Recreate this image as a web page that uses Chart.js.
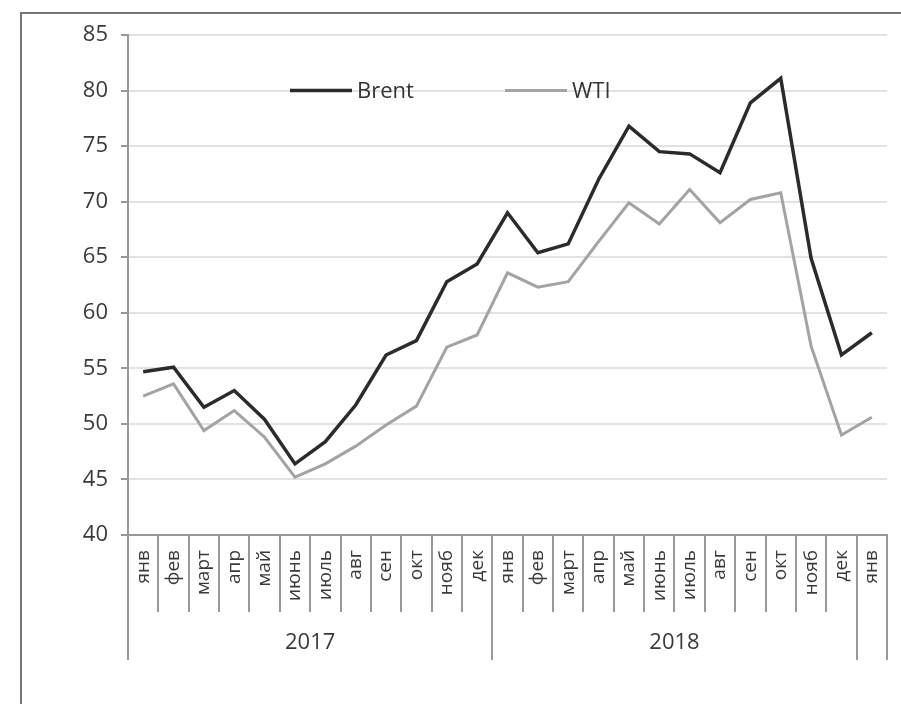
<!DOCTYPE html>
<html>
<head>
<meta charset="utf-8">
<script src="https://cdn.jsdelivr.net/npm/chart.js@4/dist/chart.umd.min.js"></script>
<style>
  html, body { margin: 0; padding: 0; background: #fff; }
  #wrap { position: relative; width: 901px; height: 704px; overflow: hidden; }
  #frame { position: absolute; left: 20px; top: 12px; width: 900px; height: 720px; border: 2px solid #777; box-sizing: border-box; }
  canvas { position: absolute; left: 0; top: 0; }
</style>
</head>
<body>
<div id="wrap">
  <div id="frame"></div>
  <canvas id="oilChart" width="901" height="704"></canvas>
</div>
<script>
// Months (Jan 2017 – Jan 2019)
const months = ['янв', 'фев', 'март', 'апр', 'май', 'июнь', 'июль', 'авг', 'сен', 'окт', 'нояб', 'дек',
                'янв', 'фев', 'март', 'апр', 'май', 'июнь', 'июль', 'авг', 'сен', 'окт', 'нояб', 'дек',
                'янв'];
const yearLabels = ['2017', '2018', ''];
const yearSpans = [12, 12, 1];

const brent = [54.7, 55.1, 51.5, 53.0, 50.4, 46.4, 48.4, 51.7, 56.2, 57.5, 62.8, 64.4,
               69.0, 65.4, 66.2, 72.0, 76.8, 74.5, 74.3, 72.6, 78.9, 81.1, 64.9, 56.2,
               58.2];
const wti = [52.5, 53.6, 49.4, 51.2, 48.8, 45.2, 46.4, 48.0, 49.9, 51.6, 56.9, 58.0,
             63.6, 62.3, 62.8, 66.4, 69.9, 68.0, 71.1, 68.1, 70.2, 70.8, 57.0, 49.0,
             50.6];

const yTicks = { min: 40, max: 85, step: 5 };

// Legend drawn inside the plot area, year groups drawn under the month labels
const extras = {
    id: 'extras',
    afterDraw(chart) {
        const ctx = chart.ctx;
        const x = chart.scales.x;
        const area = chart.chartArea;
        const step = x.getPixelForValue(1) - x.getPixelForValue(0);
        const edge = i => x.getPixelForValue(0) - step / 2 + i * step;

        // boundaries
        const yearEdges = [0];
        yearSpans.reduce((acc, s) => { yearEdges.push(acc + s); return acc + s; }, 0);
        ctx.save();
        ctx.strokeStyle = '#999';
        ctx.lineWidth = 2;
        for (let i = 0; i <= months.length; i++) {
            const long = yearEdges.includes(i);
            const px = Math.round(edge(i));
            ctx.beginPath();
            ctx.moveTo(px, area.bottom);
            ctx.lineTo(px, area.bottom + (long ? 125 : 77));
            ctx.stroke();
        }

        // year labels
        ctx.fillStyle = '#3a3a3a';
        ctx.font = '22px "Open Sans"';
        ctx.textAlign = 'center';
        ctx.textBaseline = 'middle';
        yearLabels.forEach((lab, k) => {
            if (!lab) return;
            const cx = (edge(yearEdges[k]) + edge(yearEdges[k + 1])) / 2;
            ctx.fillText(lab, cx, area.bottom + 108);
        });

        // legend
        const ly = chart.scales.y.getPixelForValue(80);
        const items = [
            { ds: chart.data.datasets[0], x0: 290 },
            { ds: chart.data.datasets[1], x0: 505 }
        ];
        ctx.font = '22px "Open Sans"';
        ctx.textAlign = 'left';
        items.forEach(it => {
            ctx.strokeStyle = it.ds.borderColor;
            ctx.lineWidth = it.ds.borderWidth;
            ctx.beginPath();
            ctx.moveTo(it.x0, ly);
            ctx.lineTo(it.x0 + 62, ly);
            ctx.stroke();
            ctx.fillStyle = '#333';
            ctx.fillText(it.ds.label, it.x0 + 67, ly + 1);
        });
        ctx.restore();
    }
};

const ctx = document.getElementById('oilChart').getContext('2d');
new Chart(ctx, {
    type: 'line',
    data: {
        labels: months,
        datasets: [{
            label: 'Brent',
            data: brent,
            borderColor: '#2b2b2b',
            borderWidth: 3.5,
            pointRadius: 0,
            tension: 0
        }, {
            label: 'WTI',
            data: wti,
            borderColor: '#a3a3a3',
            borderWidth: 3,
            pointRadius: 0,
            tension: 0
        }]
    },
    options: {
        responsive: false,
        animation: false,
        layout: {
            padding: { left: 20, top: 35, right: 14, bottom: 0 }
        },
        plugins: {
            legend: { display: false },
            tooltip: { enabled: false }
        },
        scales: {
            x: {
                offset: true,
                grid: { display: false, drawTicks: false },
                border: { display: true, color: '#999', width: 2 },
                ticks: {
                    autoSkip: false,
                    minRotation: 90,
                    maxRotation: 90,
                    padding: 15,
                    color: '#3a3a3a',
                    font: { family: 'Open Sans', size: 19 }
                },
                afterFit: s => {
                    s.height = 169;
                    s.paddingLeft = 0;
                    s.paddingRight = 0;
                }
            },
            y: {
                min: yTicks.min,
                max: yTicks.max,
                grid: {
                    color: '#e2e2e2',
                    lineWidth: 2,
                    tickLength: 7,
                    tickColor: '#999'
                },
                border: { display: true, color: '#999', width: 2 },
                ticks: {
                    stepSize: yTicks.step,
                    padding: 13,
                    color: '#3a3a3a',
                    font: { family: 'Open Sans', size: 22 }
                },
                afterFit: s => { s.width = 108; }
            }
        }
    },
    plugins: [extras]
});
</script>
</body>
</html>
